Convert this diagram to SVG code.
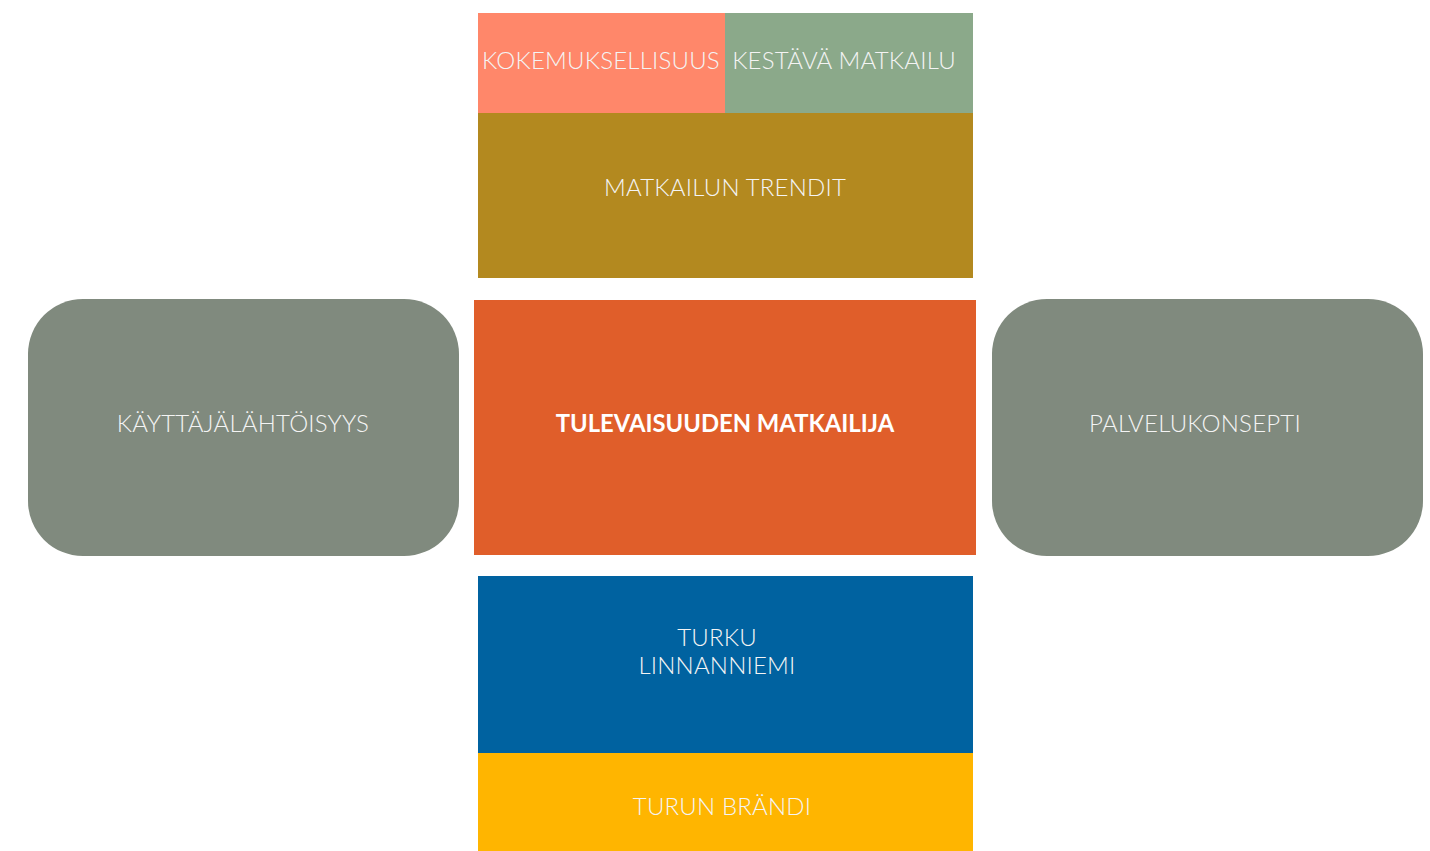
<svg xmlns="http://www.w3.org/2000/svg" width="1430" height="851" viewBox="0 0 1430 851">
<style>
text{font-family:Lato,"Noto Sans","Liberation Sans",sans-serif;font-size:24px;fill:#f4f4f4;text-anchor:middle;font-weight:300;letter-spacing:0.2px}
.b{font-weight:700;fill:#fff;font-size:23.8px;letter-spacing:0}
</style>
<rect width="1430" height="851" fill="#fff"/>
<g id="kokemuksellisuus"><rect x="478" y="13" width="247" height="100" fill="#FF876A"/><text x="601" y="69">KOKEMUKSELLISUUS</text></g>
<g id="kestava"><rect x="725" y="13" width="248" height="100" fill="#8BA98A"/><text x="844" y="69">KESTÄVÄ MATKAILU</text></g>
<g id="trendit"><rect x="478" y="113" width="495" height="165" fill="#B3891F"/><text x="725" y="196">MATKAILUN TRENDIT</text></g>
<g id="kayttaja"><rect x="28" y="299" width="431" height="257" rx="55" fill="#808A7E"/><text x="243" y="432">KÄYTTÄJÄLÄHTÖISYYS</text></g>
<g id="matkailija"><rect x="474" y="300" width="502" height="255" fill="#E05E2A"/><text class="b" x="725" y="432">TULEVAISUUDEN MATKAILIJA</text></g>
<g id="palvelu"><rect x="992" y="299" width="431" height="257" rx="55" fill="#808A7E"/><text x="1195" y="432">PALVELUKONSEPTI</text></g>
<g id="turku"><rect x="478" y="576" width="495" height="177" fill="#0062A0"/><text x="717" y="646">TURKU</text><text x="717" y="674">LINNANNIEMI</text></g>
<g id="brandi"><rect x="478" y="753" width="495" height="98" fill="#FFB500"/><text x="722" y="815">TURUN BRÄNDI</text></g>
<g id="connectors"/>
</svg>
